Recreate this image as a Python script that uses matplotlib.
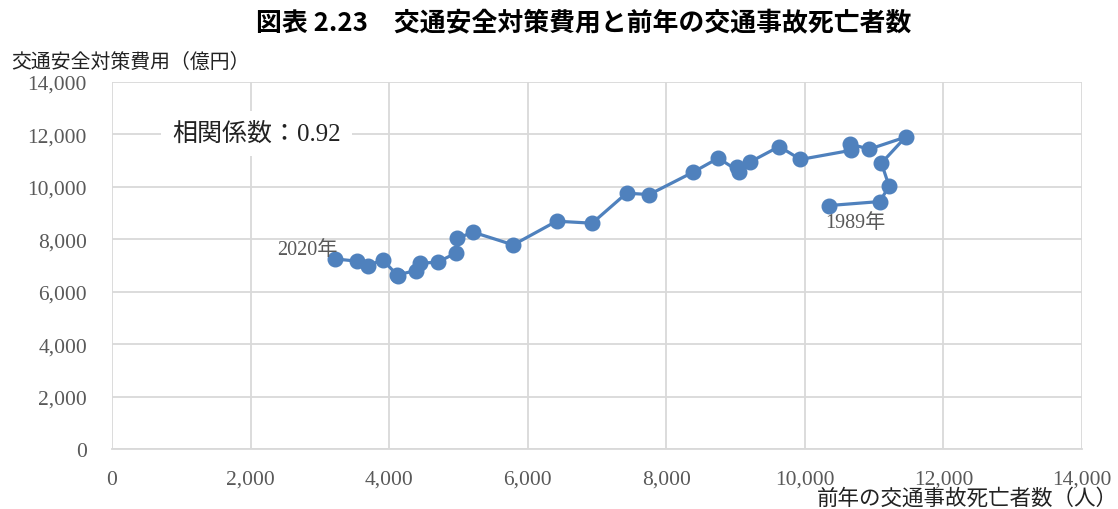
import matplotlib.pyplot as plt
from matplotlib.ticker import FuncFormatter, MultipleLocator

# 前年の交通事故死亡者数（人）と交通安全対策費用（億円）, 1989年〜2020年
years = list(range(1989, 2021))
deaths = [10346, 11082, 11216, 11105, 11453, 10927, 10649, 10673, 9937, 9629,
          9206, 9015, 9053, 8750, 8388, 7753, 7426, 6930, 6416, 5791,
          5213, 4982, 4958, 4699, 4444, 4381, 4115, 4121, 3906, 3699,
          3539, 3218]
cost = [9286, 9439, 10027, 10905, 11897, 11435, 11641, 11397, 11045, 11538,
        10943, 10752, 10584, 11095, 10561, 9706, 9759, 8614, 8690, 7786,
        8270, 8041, 7469, 7126, 7088, 6805, 6640, 6615, 7225, 6997,
        7164, 7252]
corr = 0.92

serif = ['Liberation Serif', 'Noto Sans CJK JP']
gothic = ['Noto Sans CJK JP', 'DejaVu Sans']
line_color = '#4F81BD'
text_gray = '#595959'

fig = plt.figure(figsize=(11.18, 5.10), dpi=100)
ax = fig.add_axes([0.1002, 0.1176, 0.8676, 0.7197])

ax.plot(deaths, cost, color=line_color, linewidth=2.3, marker='o',
        markersize=10.5, zorder=3)

ax.set_xlim(0, 14000)
ax.set_ylim(0, 14000)
ax.xaxis.set_major_locator(MultipleLocator(2000))
ax.yaxis.set_major_locator(MultipleLocator(2000))
fmt = FuncFormatter(lambda v, _: f'{int(v):,}')
ax.xaxis.set_major_formatter(fmt)
ax.yaxis.set_major_formatter(fmt)
ax.grid(True, color='#d9d9d9', linewidth=1.3)
ax.set_axisbelow(True)
for side in ['top', 'right', 'left']:
    ax.spines[side].set_visible(False)
ax.spines['bottom'].set_color('#d9d9d9')
ax.spines['bottom'].set_linewidth(1.3)
ax.tick_params(length=0, pad=15, labelsize=15.5, labelcolor=text_gray)
ax.tick_params(axis='y', pad=18)
for lab in ax.get_xticklabels() + ax.get_yticklabels():
    lab.set_family(serif)

# first and last years
ax.annotate(f'{years[0]}年', (deaths[0], cost[0]), xytext=(19, -12),
            textcoords='offset points', ha='center', va='center',
            fontsize=14.5, color=text_gray, family=serif)
ax.annotate(f'{years[-1]}年', (deaths[-1], cost[-1]), xytext=(2, 7),
            textcoords='offset points', ha='right', va='center',
            fontsize=14.5, color=text_gray, family=serif)

ax.text(0.062, 0.859, f'相関係数：{corr:.2f}', transform=ax.transAxes,
        fontsize=18, family=serif, color='#222222', va='center', ha='left',
        bbox=dict(facecolor='white', edgecolor='none', pad=8), zorder=4)

fig.text(0.5225, 0.955, '図表 2.23　交通安全対策費用と前年の交通事故死亡者数',
         ha='center', va='center', fontsize=18.6, fontweight='bold',
         family=gothic)
fig.text(0.01, 0.878, '交通安全対策費用（億円）', ha='left', va='center',
         fontsize=14.3, family=gothic, color='#222222')
fig.text(1.0, 0.022, '前年の交通事故死亡者数（人）', ha='right', va='center',
         fontsize=15.5, family=gothic, color='#222222')

fig.savefig('out.png', dpi=100)
